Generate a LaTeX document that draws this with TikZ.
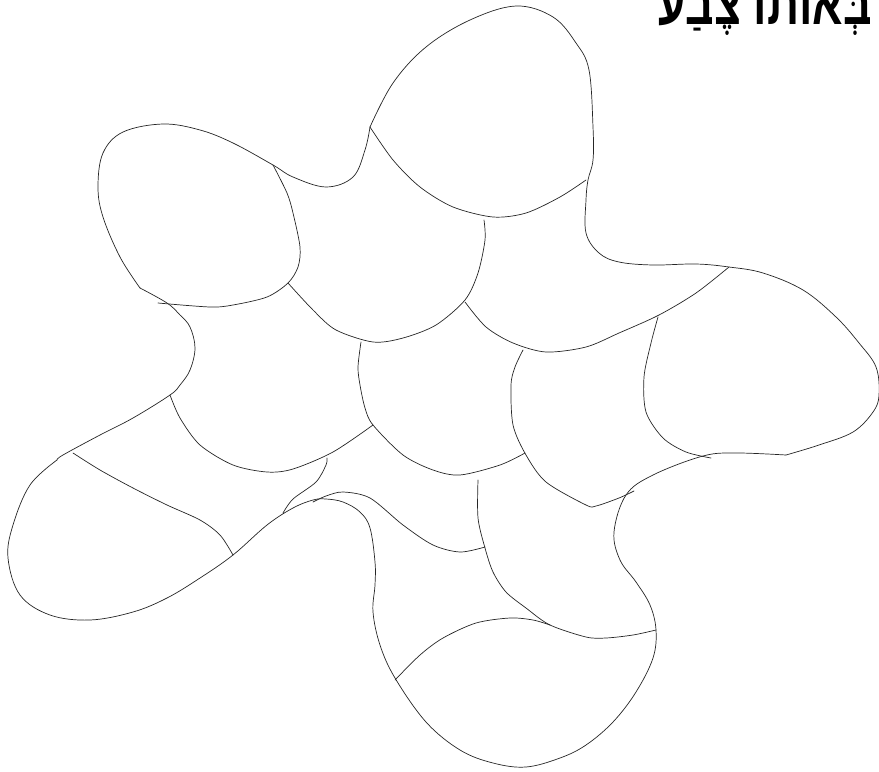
\documentclass[tikz,border=0pt]{standalone}
\usepackage{fontspec}
\newfontfamily\hebfont[Script=Hebrew]{Liberation Sans}
\TeXXeTstate=1

\begin{document}
\begin{tikzpicture}[x=0.3mm, y=-0.3mm, line width=0.6pt, line cap=round, line join=round,
  rim/.style={draw=black!85},
  seam/.style={draw=black!85}]
  % frame (fixes the aspect ratio)
  \useasboundingbox (0,0) rectangle (879,771);

  % Title
  \node[anchor=base east, font=\hebfont\bfseries\fontsize{37}{37}\selectfont, inner sep=0pt] (title) at (872,24) {\scalebox{1.03}[1.35]{\beginR בְּאוֹתוֹ צֶבַע\endR}};

  % Outer rim, lobe by lobe
  \draw[rim] plot[smooth, tension=0.6] coordinates {(140,288) (120,257) (103,217) (98,187) (103,153) (123,132) (163,124) (200,130) (233,143) (273,165) (293,177) (326,187) (353,177) (365,150) (370,127)};
  \draw[rim] plot[smooth, tension=0.6] coordinates {(370,127) (393,83) (426,47) (470,20) (516,6) (553,17) (576,43) (589,70) (593,127) (593,160) (588,180) (586,200) (586,233) (599,253) (619,262) (653,265) (696,264) (729,267) (763,273) (803,290) (836,317) (859,343) (876,367) (879,395) (873,412) (853,432) (819,445) (786,455)};
  \draw[rim] plot[smooth, tension=0.6] coordinates {(786,455) (736,453) (703,456) (653,475) (626,495) (614,532) (620,560) (636,582) (650,605) (656,630) (653,658) (636,692) (613,722) (586,745) (560,758) (526,767) (493,763) (460,750) (426,722) (395,678) (380,645) (373,612) (375,585) (375,562) (370,528) (360,512) (343,502) (326,499) (313,500) (293,508) (267,525) (233,555) (200,578) (167,598) (133,612) (90,620) (50,615) (20,595) (8,558) (13,525) (30,485) (57,460)};
  \draw[rim] plot[smooth, tension=0.6] coordinates {(57,460) (63,455) (100,435) (133,418) (170,395) (180,385) (190,370) (195,348) (190,327) (180,315) (167,303) (140,288)};

  % Seams between the patches
  \draw[seam] plot[smooth] coordinates {(273,165) (287,193) (293,213) (300,247) (298,267) (288,283) (267,297) (233,305) (210,307) (158,303)};
  \draw[seam] plot[smooth] coordinates {(370,127) (393,160) (420,187) (453,207) (493,217) (526,213) (560,197) (586,180)};
  \draw[seam] plot[smooth] coordinates {(288,283) (313,310) (336,330) (373,342) (403,338) (436,325) (465,300) (478,273) (485,240) (484,220)};
  \draw[seam] plot[smooth] coordinates {(465,302) (486,327) (513,343) (546,352) (586,347) (619,333) (659,315) (696,293) (729,267)};
  \draw[seam] plot[smooth] coordinates {(658,317) (651,343) (644,377) (646,412) (663,438) (686,452) (711,458)};
  \draw[seam] plot[smooth] coordinates {(361,342) (358,367) (360,385) (365,408) (373,425) (403,455) (433,470) (460,475) (500,465) (525,453)};
  \draw[seam] plot[smooth] coordinates {(523,350) (515,367) (511,385) (513,425) (526,455) (546,482) (586,505) (596,506) (619,498) (634,491)};
  \draw[seam] plot[smooth] coordinates {(373,425) (333,452) (293,469) (267,472) (233,465) (200,445) (180,418) (170,395)};
  \draw[seam] plot[smooth] coordinates {(73,453) (100,470) (133,488) (167,505) (200,520) (220,535) (233,555)};
  \draw[seam] plot[smooth] coordinates {(327,458) (326,465) (316,482) (293,499) (283,513)};
  \draw[seam] plot[smooth] coordinates {(313,502) (326,496) (343,492) (370,498) (403,525) (433,545) (460,552) (485,547)};
  \draw[seam] plot[smooth] coordinates {(478,480) (478,518) (485,548) (493,572) (506,592) (526,608) (550,625) (586,637) (606,638) (633,635) (656,630)};
  \draw[seam] plot[smooth] coordinates {(395,680) (420,655) (443,638) (476,623) (510,618) (533,620) (550,625)};
\end{tikzpicture}
\end{document}
